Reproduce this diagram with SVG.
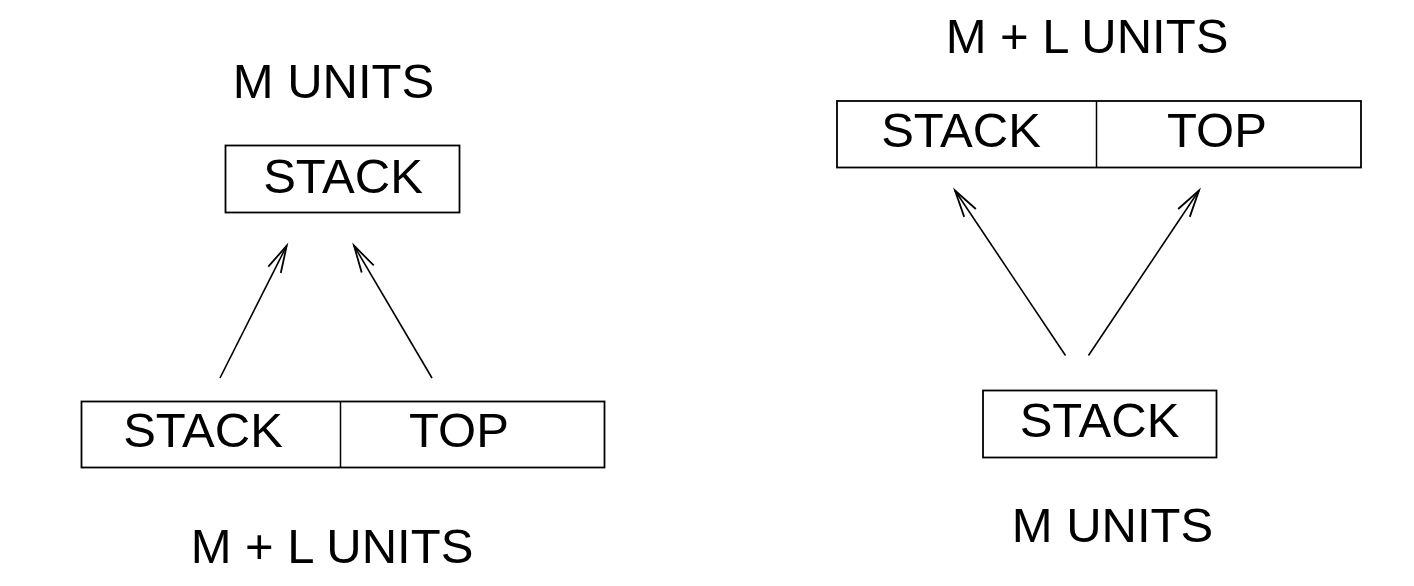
<svg xmlns="http://www.w3.org/2000/svg" width="1414" height="586" viewBox="0 0 1414 586">
<defs>
<style>
text{font-family:"Liberation Sans",Arial,sans-serif;font-size:49px;fill:#000;text-anchor:middle}
.box{fill:#fff;stroke:#000;stroke-width:1.8}
.div{stroke:#000;stroke-width:1.5}
.conn line{stroke:#000;stroke-width:1.6;fill:none}
</style>
<marker id="arr" markerUnits="userSpaceOnUse" markerWidth="40" markerHeight="20" viewBox="-30 -10 32 20" refX="0" refY="0" orient="auto" overflow="visible">
<path d="M -27 -7 L 0 0 L -27 7" fill="none" stroke="#000" stroke-width="1.8"/>
</marker>
</defs>
<rect width="1414" height="586" fill="#fff"/>
<g id="left-label-top"><text x="333.5" y="97.5">M UNITS</text></g>
<g id="left-stack"><rect class="box" x="225.5" y="145.5" width="234" height="67"/><text x="343" y="192.5">STACK</text></g>
<g id="left-stacktop"><rect class="box" x="81.5" y="401.5" width="523" height="66"/><line class="div" x1="340.5" y1="401.5" x2="340.5" y2="467.5"/><text x="203" y="446.5">STACK</text><text x="459" y="446.5">TOP</text></g>
<g id="left-label-bottom"><text x="332" y="563">M + L UNITS</text></g>
<g id="right-label-top"><text x="1087" y="53">M + L UNITS</text></g>
<g id="right-stacktop"><rect class="box" x="837" y="101" width="524" height="66.5"/><line class="div" x1="1096.5" y1="101" x2="1096.5" y2="167.5"/><text x="961" y="147">STACK</text><text x="1217" y="147">TOP</text></g>
<g id="right-stack"><rect class="box" x="983" y="390.5" width="233.5" height="67"/><text x="1099.5" y="436.5">STACK</text></g>
<g id="right-label-bottom"><text x="1112.5" y="542">M UNITS</text></g>
<g id="connectors" class="conn">
<line x1="220" y1="378" x2="286.7" y2="245.7" marker-end="url(#arr)"/>
<line x1="432" y1="378" x2="354" y2="245.7" marker-end="url(#arr)"/>
<line x1="1065.5" y1="355.5" x2="955" y2="190.5" marker-end="url(#arr)"/>
<line x1="1088.5" y1="355.5" x2="1199" y2="190.5" marker-end="url(#arr)"/>
</g>
</svg>
